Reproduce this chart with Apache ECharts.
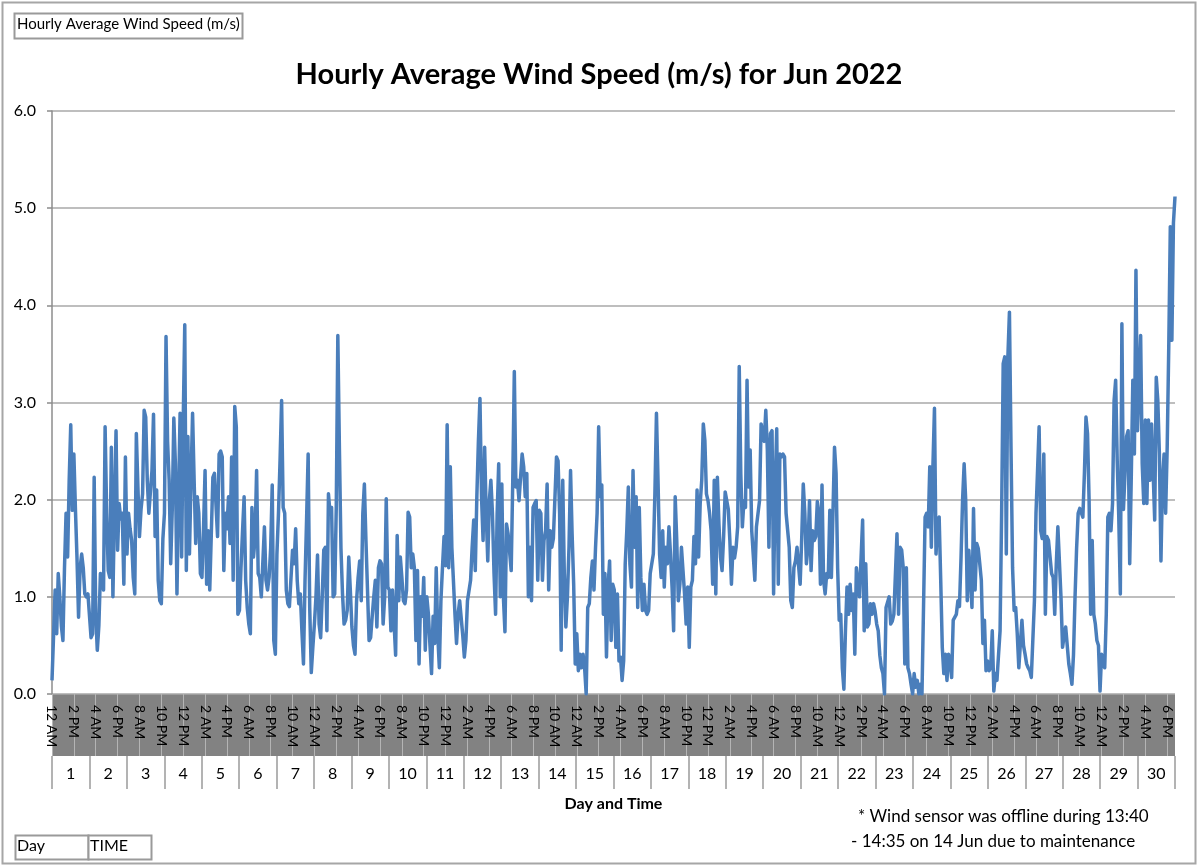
<!DOCTYPE html>
<html>
<head>
<meta charset="utf-8">
<title>Hourly Average Wind Speed</title>
<script src="https://cdn.jsdelivr.net/npm/echarts@6/dist/echarts.min.js"></script>
<style>
html, body { margin: 0; padding: 0; background: #fff; }
#main { width: 1198px; height: 866px; }
</style>
</head>
<body>
<div id="main"></div>
<script>
// hourly average wind speed (m/s), one array per day, 24 values (12 AM .. 11 PM)
var d1 = [0.14, 0.6, 1.07, 0.62, 1.24, 1.0, 0.7, 0.55, 1.3, 1.86, 1.41, 2.2, 2.77, 1.89, 2.47, 1.9, 1.4, 0.79, 1.3, 1.44, 1.3, 1.03, 1.0, 1.03];
var d2 = [1.03, 0.58, 0.62, 2.23, 0.82, 0.45, 0.7, 1.24, 1.2, 1.07, 2.75, 1.86, 1.27, 1.2, 2.54, 1.0, 1.9, 2.71, 1.48, 1.96, 1.8, 1.86, 1.13, 2.44];
var d3 = [1.44, 1.86, 1.7, 1.58, 1.2, 1.03, 2.68, 2.13, 1.62, 1.9, 2.06, 2.92, 2.85, 2.2, 1.86, 1.86, 2.3, 2.88, 1.62, 2.1, 1.17, 0.96, 0.93, 1.6];
var d4 = [1.86, 3.68, 2.6, 2.2, 1.34, 1.9, 2.84, 2.37, 1.03, 2.0, 2.89, 1.41, 2.8, 3.8, 1.27, 2.65, 1.44, 2.2, 2.89, 2.2, 1.55, 2.03, 1.86, 1.24];
var d5 = [1.2, 1.7, 2.3, 1.13, 1.68, 1.07, 1.07, 2.23, 2.27, 2.27, 1.62, 2.47, 2.5, 2.44, 1.27, 1.86, 1.7, 2.03, 1.55, 2.44, 1.17, 2.96, 2.75, 0.82];
var d6 = [0.86, 1.3, 1.68, 2.03, 1.17, 0.89, 0.72, 0.62, 1.92, 1.41, 1.6, 2.3, 1.24, 1.2, 1.0, 1.0, 1.72, 1.17, 1.07, 1.2, 1.5, 2.15, 0.55, 0.41];
var d7 = [1.44, 1.86, 2.4, 3.02, 1.92, 1.86, 1.07, 0.93, 0.9, 0.89, 1.48, 1.34, 1.7, 1.17, 0.93, 1.03, 0.65, 0.31, 1.17, 1.8, 2.47, 0.89, 0.22, 0.48];
var d8 = [0.72, 1.0, 1.43, 0.72, 0.58, 1.0, 1.48, 1.51, 0.65, 2.06, 1.86, 1.92, 1.0, 1.03, 1.92, 3.69, 2.54, 1.5, 1.03, 0.72, 0.76, 0.86, 1.41, 1.07];
var d9 = [0.69, 0.5, 0.41, 0.96, 1.2, 1.37, 0.96, 1.86, 2.16, 1.58, 1.07, 0.55, 0.58, 0.8, 1.0, 1.17, 0.69, 1.3, 1.37, 1.34, 0.72, 1.0, 2.01, 1.1];
var d10 = [1.07, 0.65, 1.07, 1.07, 0.4, 1.63, 0.96, 1.41, 1.2, 0.96, 0.93, 1.07, 1.87, 1.82, 1.3, 1.44, 1.3, 0.55, 1.27, 0.31, 1.0, 0.8, 1.2, 0.45];
var d11 = [1.0, 0.82, 0.5, 0.21, 0.8, 0.52, 1.3, 0.6, 0.27, 0.96, 1.3, 1.62, 1.32, 2.77, 1.3, 2.34, 1.51, 1.17, 0.82, 0.52, 0.82, 0.96, 0.96, 0.6];
var d12 = [0.38, 0.55, 0.96, 0.96, 1.17, 1.51, 1.79, 1.27, 2.03, 2.6, 3.04, 2.03, 1.58, 2.54, 1.86, 1.37, 1.99, 2.2, 1.86, 1.24, 0.82, 1.86, 2.37, 1.0];
var d13 = [2.16, 1.0, 0.64, 1.75, 1.65, 1.65, 1.27, 2.2, 3.32, 2.13, 2.2, 1.99, 1.99, 2.47, 2.34, 2.03, 2.27, 1.0, 1.51, 0.96, 1.92, 1.96, 1.99, 1.17];
var d14 = [1.89, 1.86, 1.17, 1.58, 1.68, 2.16, 1.07, 1.68, 1.51, 1.6, 1.58, 2.44, 2.4, 1.86, 0.45, 2.2, 1.24, 0.69, 1.0, 1.51, 2.3, 1.65, 1.13, 0.31];
var d15 = [0.62, 0.24, 0.41, 0.27, 0.41, 0.27, 0.0, 0.89, 0.93, 1.2, 1.37, 1.07, 1.51, 1.86, 2.75, 2.03, 2.15, 0.82, 1.24, 0.38, 1.1, 1.37, 0.55, 1.13];
var d16 = [1.07, 0.48, 1.03, 0.34, 0.38, 0.14, 0.34, 1.34, 1.68, 2.13, 1.34, 1.1, 2.3, 1.51, 2.03, 0.89, 1.92, 1.2, 0.86, 1.13, 0.86, 0.82, 0.86, 1.24];
var d17 = [1.24, 1.44, 2.06, 2.89, 2.2, 1.44, 1.2, 1.68, 1.1, 1.51, 1.34, 1.72, 1.44, 1.1, 0.65, 2.03, 1.58, 0.96, 1.13, 1.51, 1.51, 1.03, 0.72, 1.1];
var d18 = [0.48, 1.1, 1.17, 1.62, 1.34, 2.1, 1.41, 1.96, 2.2, 2.78, 2.61, 2.06, 1.99, 1.86, 1.68, 1.13, 2.2, 1.03, 2.23, 1.75, 1.41, 1.27, 1.62, 2.08];
var d19 = [2.08, 1.9, 1.58, 1.13, 1.51, 1.4, 1.51, 1.72, 3.37, 2.27, 1.72, 1.99, 1.92, 3.23, 2.13, 2.51, 1.68, 1.68, 1.17, 1.72, 1.72, 1.99, 2.78, 2.78];
var d20 = [2.6, 2.92, 2.51, 1.51, 2.68, 2.71, 1.03, 2.13, 2.73, 1.13, 2.47, 2.44, 2.47, 2.44, 1.86, 1.86, 1.51, 0.96, 0.89, 1.3, 1.37, 1.51, 1.51, 1.13];
var d21 = [1.6, 2.16, 1.86, 1.34, 1.51, 1.99, 1.27, 1.68, 1.58, 1.62, 1.98, 1.86, 1.13, 2.15, 1.17, 1.03, 1.24, 1.2, 1.89, 1.2, 1.86, 2.54, 2.27, 1.3];
var d22 = [0.76, 0.82, 0.27, 0.05, 0.65, 1.1, 0.82, 1.13, 0.86, 1.03, 0.41, 1.3, 1.3, 1.0, 1.4, 1.79, 0.65, 1.34, 0.69, 0.72, 0.93, 0.82, 0.93, 0.85];
var d23 = [0.72, 0.65, 0.4, 0.27, 0.21, 0.0, 0.89, 0.89, 1.0, 0.72, 0.75, 0.82, 0.82, 1.65, 0.82, 1.51, 1.48, 1.3, 0.31, 1.3, 0.27, 0.21, 0.1, 0.0];
var d24 = [0.21, 0.07, 0.14, 0.0, 0.1, 0.0, 0.9, 1.82, 1.86, 1.72, 2.34, 1.51, 2.34, 2.94, 1.44, 1.79, 1.82, 1.17, 0.48, 0.21, 0.41, 0.14, 0.41, 0.34];
var d25 = [0.17, 0.76, 0.76, 0.82, 0.96, 0.9, 1.4, 2.0, 2.37, 1.99, 0.96, 1.48, 1.2, 0.89, 1.91, 1.07, 1.55, 1.5, 1.34, 1.17, 0.52, 0.76, 0.24, 0.34];
var d26 = [0.24, 0.27, 0.65, 0.03, 0.21, 0.14, 0.4, 0.65, 1.86, 3.4, 3.47, 1.44, 3.47, 3.93, 2.54, 1.3, 0.86, 0.89, 0.62, 0.27, 0.27, 0.76, 0.5, 0.41];
var d27 = [0.31, 0.27, 0.24, 0.17, 0.17, 0.96, 1.86, 2.3, 2.75, 1.68, 1.6, 2.47, 0.82, 1.62, 1.58, 1.58, 1.24, 1.2, 0.82, 1.34, 1.72, 1.72, 1.0, 0.48];
var d28 = [0.6, 0.69, 0.69, 0.31, 0.21, 0.1, 0.4, 1.0, 1.5, 1.86, 1.91, 1.9, 1.82, 2.27, 2.85, 2.68, 1.99, 0.82, 1.58, 0.82, 0.72, 0.55, 0.5, 0.03];
var d29 = [0.41, 0.31, 0.27, 0.82, 1.82, 1.86, 1.68, 1.96, 3.02, 3.23, 2.4, 1.82, 1.03, 3.81, 1.9, 1.9, 2.65, 2.71, 1.34, 2.23, 3.23, 2.47, 4.36, 2.71];
var d30 = [3.2, 3.69, 2.37, 1.96, 2.82, 1.96, 2.82, 2.2, 2.78, 2.78, 1.79, 3.26, 3.02, 2.47, 1.37, 2.2, 2.47, 1.86, 2.54, 3.57, 4.81, 3.64, 4.85, 5.12];

var dayNames = ['1', '2', '3', '4', '5', '6', '7', '8', '9', '10', '11', '12', '13', '14', '15',
    '16', '17', '18', '19', '20', '21', '22', '23', '24', '25', '26', '27', '28', '29', '30'];
var hourNames = ['12 AM', '1 AM', '2 AM', '3 AM', '4 AM', '5 AM', '6 AM', '7 AM', '8 AM', '9 AM', '10 AM', '11 AM',
    '12 PM', '1 PM', '2 PM', '3 PM', '4 PM', '5 PM', '6 PM', '7 PM', '8 PM', '9 PM', '10 PM', '11 PM'];

var days = [d1, d2, d3, d4, d5, d6, d7, d8, d9, d10, d11, d12, d13, d14, d15,
    d16, d17, d18, d19, d20, d21, d22, d23, d24, d25, d26, d27, d28, d29, d30];

var speeds = [];
var slots = [];
for (var d = 0; d < days.length; d++) {
    for (var h = 0; h < 24; h++) {
        speeds.push(days[d][h]);
        slots.push(dayNames[d] + '|' + hourNames[h]);
    }
}

var gridLeft = 52, gridRight = 23, gridTop = 111, gridBottom = 172;
var W = 1198, H = 866;
var plotBottom = H - gridBottom;
var font = 'Lato, "Open Sans", sans-serif';

var myChart = echarts.init(document.getElementById('main'));
var option = {
    animation: false,
    textStyle: { fontFamily: font, color: '#000' },
    title: {
        text: 'Hourly Average Wind Speed (m/s) for Jun 2022',
        left: 'center',
        top: 55,
        textStyle: { fontSize: 29, fontWeight: 'bold', color: '#000', fontFamily: font }
    },
    grid: {
        left: gridLeft,
        right: gridRight,
        top: gridTop,
        bottom: gridBottom,
        containLabel: false,
        outerBoundsMode: 'none'
    },
    xAxis: [{
        type: 'category',
        data: slots,
        boundaryGap: false,
        axisLine: { show: false },
        axisTick: {
            show: true,
            interval: 13,
            length: 62,
            lineStyle: { color: '#b4b4b4', width: 1 }
        },
        axisLabel: {
            interval: 13,
            rotate: -90,
            margin: 11,
            fontSize: 14,
            color: '#000',
            formatter: function (v) { return v.split('|')[1]; }
        },
        splitLine: { show: false }
    }, {
        type: 'category',
        data: dayNames,
        position: 'bottom',
        offset: 62,
        boundaryGap: true,
        axisLine: { show: false },
        axisTick: {
            show: true,
            interval: 0,
            length: 33,
            lineStyle: { color: '#9a9a9a', width: 1.5 }
        },
        axisLabel: { interval: 0, fontSize: 16, color: '#000', margin: 10 },
        name: 'Day and Time',
        nameLocation: 'middle',
        nameGap: 40,
        nameTextStyle: { fontSize: 16, fontWeight: 'bold', color: '#000' }
    }],
    yAxis: {
        type: 'value',
        min: 0,
        max: 6,
        interval: 1,
        axisLine: { show: true, lineStyle: { color: '#8c8c8c', width: 1.5 } },
        axisTick: { show: true, length: 5, lineStyle: { color: '#8c8c8c', width: 1.5 } },
        axisLabel: {
            fontSize: 16,
            color: '#000',
            margin: 16,
            formatter: function (v) { return v.toFixed(1); }
        },
        splitLine: { show: true, lineStyle: { color: '#a8a8a8', width: 1.5 } }
    },
    series: [{
        name: 'Hourly Average Wind Speed (m/s)',
        type: 'line',
        xAxisIndex: 0,
        data: speeds,
        symbol: 'none',
        showSymbol: false,
        lineStyle: { color: '#4a7ebb', width: 3.5, join: 'round' },
        itemStyle: { color: '#4a7ebb' },
        z: 3
    }],
    graphic: [
        // chart frame
        {
            type: 'rect', z: -20, silent: true,
            shape: { x: 2.5, y: 2.5, width: W - 5, height: H - 5 },
            style: { fill: 'none', stroke: '#a6a6a6', lineWidth: 2 }
        },
        // grey band behind the time labels
        {
            type: 'rect', z: -10, silent: true,
            shape: { x: gridLeft, y: plotBottom, width: W - gridLeft - gridRight, height: 62 },
            style: { fill: '#828282' }
        },
        // field buttons
        {
            type: 'rect', silent: true,
            shape: { x: 14.5, y: 13.5, width: 228, height: 25 },
            style: { fill: '#fff', stroke: '#9a9a9a', lineWidth: 2 }
        },
        {
            type: 'text', silent: true, left: 17, top: 17,
            style: { text: 'Hourly Average Wind Speed (m/s)', fontSize: 15, fill: '#000', fontFamily: font }
        },
        {
            type: 'rect', silent: true,
            shape: { x: 15.5, y: 835.5, width: 73, height: 24 },
            style: { fill: '#fff', stroke: '#9a9a9a', lineWidth: 2 }
        },
        {
            type: 'rect', silent: true,
            shape: { x: 88.5, y: 835.5, width: 63, height: 24 },
            style: { fill: '#fff', stroke: '#9a9a9a', lineWidth: 2 }
        },
        {
            type: 'text', silent: true, left: 17, top: 838,
            style: { text: 'Day', fontSize: 16, fill: '#000', fontFamily: font }
        },
        {
            type: 'text', silent: true, left: 90, top: 838,
            style: { text: 'TIME', fontSize: 16, fill: '#000', fontFamily: font }
        },
        // footnote
        {
            type: 'text', silent: true, left: 858, top: 808,
            style: { text: '* Wind sensor was offline during 13:40', fontSize: 17, fill: '#000', fontFamily: font }
        },
        {
            type: 'text', silent: true, left: 851, top: 833,
            style: { text: '- 14:35 on 14 Jun due to maintenance', fontSize: 17, fill: '#000', fontFamily: font }
        }
    ]
};
myChart.setOption(option);
</script>
</body>
</html>
